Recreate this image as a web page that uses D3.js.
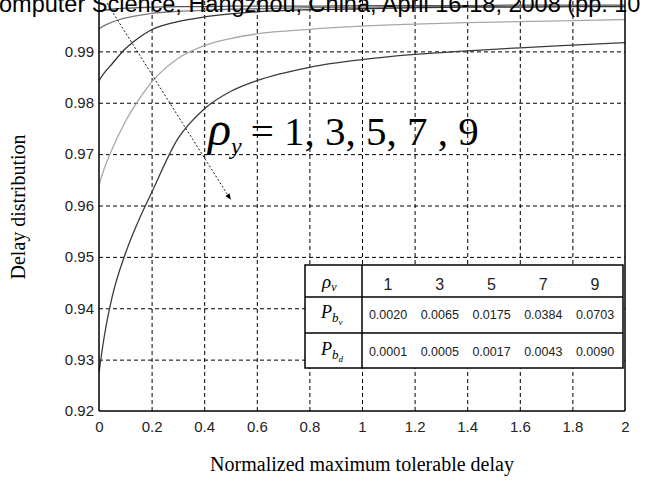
<!DOCTYPE html>
<meta charset="utf-8">
<style>
  body { margin: 0; background: #fff; }
  svg { display: block; }
  .tick text { font-family: "Liberation Sans", Arial, sans-serif; font-size: 15px; fill: #222; }
  .grid line { stroke: #000; stroke-dasharray: 4,3; stroke-width: 1; }
  .grid .domain { display: none; }
</style>
<div id="chart"></div>
<script src="https://cdn.jsdelivr.net/npm/d3@7"></script>
<script>
// sample positions along x (normalized maximum tolerable delay)
var xs = [0, 0.02, 0.05, 0.1, 0.15, 0.2, 0.3, 0.4, 0.5, 0.6, 0.8, 1.0, 1.2, 1.4, 1.6, 1.8, 2.0];

// delay distribution curves, one per rho_v
var rho1 = [0.9979, 0.9980, 0.9982, 0.9984, 0.9985, 0.9986, 0.9987, 0.9987, 0.9988, 0.9988, 0.9988, 0.9989, 0.9989, 0.9989, 0.9990, 0.9990, 0.9990];
var rho3 = [0.9944, 0.9950, 0.9957, 0.9965, 0.9970, 0.9974, 0.9978, 0.9980, 0.9982, 0.9983, 0.9985, 0.9986, 0.9987, 0.9987, 0.9988, 0.9988, 0.9988];
var rho5 = [0.9843, 0.9858, 0.9876, 0.9905, 0.9926, 0.9942, 0.9958, 0.9967, 0.9973, 0.9977, 0.9981, 0.9983, 0.9985, 0.9986, 0.9986, 0.9987, 0.9987];
var rho7 = [0.9640, 0.9672, 0.9710, 0.9763, 0.9805, 0.9840, 0.9886, 0.9911, 0.9925, 0.9934, 0.9943, 0.9949, 0.9953, 0.9956, 0.9958, 0.9960, 0.9962];
var rho9 = [0.9275, 0.9345, 0.9422, 0.9506, 0.9570, 0.9625, 0.9730, 0.9788, 0.9822, 0.9843, 0.9869, 0.9884, 0.9894, 0.9901, 0.9907, 0.9912, 0.9917];

var xTicks = [0, 0.2, 0.4, 0.6, 0.8, 1, 1.2, 1.4, 1.6, 1.8, 2];
var yTicks = [0.92, 0.93, 0.94, 0.95, 0.96, 0.97, 0.98, 0.99];

// inset table
var rhoVals = ["1", "3", "5", "7", "9"];
var pbv = ["0.0020", "0.0065", "0.0175", "0.0384", "0.0703"];
var pbd = ["0.0001", "0.0005", "0.0017", "0.0043", "0.0090"];

// arrow annotation (data coordinates)
var arrowFrom = [0.03, 0.9994];
var arrowTo = [0.50, 0.9612];

var W = 646, H = 481;
var margin = {top: 0, right: 21, bottom: 70, left: 99};
var width = W - margin.left - margin.right;
var height = 411 - margin.top;

var svg = d3.select("#chart").append("svg")
  .attr("width", W).attr("height", H);

var g = svg.append("g")
  .attr("transform", "translate(" + margin.left + "," + margin.top + ")");

var x = d3.scaleLinear().domain([0, 2]).range([0, width]);
var y = d3.scaleLinear().domain([0.92, 1.0]).range([height, 0]);

// dashed grid
g.append("g").attr("class", "grid")
  .attr("transform", "translate(0," + height + ")")
  .call(d3.axisBottom(x).tickValues(xTicks.slice(1, -1)).tickSize(-height).tickFormat(""));
g.append("g").attr("class", "grid")
  .call(d3.axisLeft(y).tickValues(yTicks.slice(1)).tickSize(-width).tickFormat(""));

// curves
var clip = g.append("clipPath").attr("id", "clip")
  .append("rect").attr("width", width).attr("height", height);

var series = [
  {vals: rho1, color: "#555"},
  {vals: rho3, color: "#7a7a7a"},
  {vals: rho5, color: "#333"},
  {vals: rho7, color: "#a8a8a8"},
  {vals: rho9, color: "#3c3c3c"}
];

var line = d3.line()
  .x(function(d) { return x(d[0]); })
  .y(function(d) { return y(d[1]); })
  .curve(d3.curveMonotoneX);

g.append("g").attr("clip-path", "url(#clip)")
  .selectAll("path").data(series).enter().append("path")
  .attr("fill", "none")
  .attr("stroke", function(d) { return d.color; })
  .attr("stroke-width", 1.3)
  .attr("d", function(d) { return line(xs.map(function(v, i) { return [v, d.vals[i]]; })); });

// axes (box on left, bottom, right)
var xAxis = g.append("g")
  .attr("transform", "translate(0," + height + ")")
  .call(d3.axisBottom(x).tickValues(xTicks).tickSize(0).tickPadding(10)
    .tickFormat(function(d) { return d3.format("")(+d.toFixed(1)); }));
xAxis.select(".domain").remove();

var yAxis = g.append("g")
  .call(d3.axisLeft(y).tickValues(yTicks).tickSize(0).tickPadding(5)
    .tickFormat(d3.format(".2f")));
yAxis.select(".domain").remove();

g.append("line").attr("x1", 0).attr("x2", 0).attr("y1", 0).attr("y2", height)
  .attr("stroke", "#000").attr("stroke-width", 1.5);
g.append("line").attr("x1", 0).attr("x2", width).attr("y1", height).attr("y2", height)
  .attr("stroke", "#000").attr("stroke-width", 1.5);
g.append("line").attr("x1", width).attr("x2", width).attr("y1", 0).attr("y2", height)
  .attr("stroke", "#000").attr("stroke-width", 1.5);

// arrow
svg.append("defs").append("marker")
  .attr("id", "arr").attr("viewBox", "0 0 10 10").attr("refX", 9).attr("refY", 5)
  .attr("markerWidth", 7).attr("markerHeight", 7).attr("orient", "auto")
  .append("path").attr("d", "M0,1 L10,5 L0,9 Z").attr("fill", "#000");

g.append("line")
  .attr("x1", x(arrowFrom[0])).attr("y1", y(arrowFrom[1]))
  .attr("x2", x(arrowTo[0])).attr("y2", y(arrowTo[1]))
  .attr("stroke", "#000").attr("stroke-width", 0.9)
  .attr("stroke-dasharray", "2,2")
  .attr("marker-end", "url(#arr)");

// big annotation
var ann = svg.append("text")
  .attr("font-family", "'Liberation Serif', 'Times New Roman', serif")
  .attr("x", 208).attr("y", 145);
ann.append("tspan").attr("font-style", "italic").attr("font-size", 48).text("ρ");
ann.append("tspan").attr("font-style", "italic").attr("font-size", 24).attr("dy", 9).text("y");
ann.append("tspan").attr("font-size", 41).attr("dy", -9).attr("dx", 9).text("= 1, 3, 5, 7 , 9");

// table
var tbl = {x: 305, y: 265, w: 318, h: 103, first: 57};
var rowY = [tbl.y, 297, 333, tbl.y + tbl.h];
var tg = svg.append("g");
tg.append("rect").attr("x", tbl.x).attr("y", tbl.y).attr("width", tbl.w).attr("height", tbl.h)
  .attr("fill", "#fff").attr("stroke", "#000").attr("stroke-width", 1.5);
tg.append("line").attr("x1", tbl.x + tbl.first).attr("x2", tbl.x + tbl.first)
  .attr("y1", tbl.y).attr("y2", tbl.y + tbl.h).attr("stroke", "#000").attr("stroke-width", 1.5);
[1, 2].forEach(function(i) {
  tg.append("line").attr("x1", tbl.x).attr("x2", tbl.x + tbl.w)
    .attr("y1", rowY[i]).attr("y2", rowY[i]).attr("stroke", "#000").attr("stroke-width", 1.5);
});

var col = d3.scalePoint().domain(d3.range(5))
  .range([tbl.x + tbl.first + 26, tbl.x + tbl.w - 28]);

tg.selectAll(".hdr").data(rhoVals).enter().append("text")
  .attr("x", function(d, i) { return col(i); }).attr("y", 290)
  .attr("text-anchor", "middle")
  .attr("font-family", "'Liberation Sans', Arial, sans-serif").attr("font-size", 16)
  .attr("fill", "#222").text(function(d) { return d; });

[[pbv, 319], [pbd, 356]].forEach(function(r) {
  tg.selectAll(null).data(r[0]).enter().append("text")
    .attr("x", function(d, i) { return col(i); }).attr("y", r[1])
    .attr("text-anchor", "middle")
    .attr("font-family", "'Liberation Sans', Arial, sans-serif").attr("font-size", 12.5)
    .attr("fill", "#222").text(function(d) { return d; });
});

// row labels
var serif = "'Liberation Serif', 'Times New Roman', serif";
var r1 = tg.append("text").attr("x", 322).attr("y", 288).attr("font-family", serif).attr("font-style", "italic");
r1.append("tspan").attr("font-size", 19).text("ρ");
r1.append("tspan").attr("font-size", 12).attr("dy", 3).text("v");

var r2 = tg.append("text").attr("x", 321).attr("y", 318).attr("font-family", serif).attr("font-style", "italic");
r2.append("tspan").attr("font-size", 18).text("P");
r2.append("tspan").attr("font-size", 13).attr("dy", 4).text("b");
r2.append("tspan").attr("font-size", 9).attr("dy", 3).text("v");

var r3 = tg.append("text").attr("x", 321).attr("y", 355).attr("font-family", serif).attr("font-style", "italic");
r3.append("tspan").attr("font-size", 18).text("P");
r3.append("tspan").attr("font-size", 13).attr("dy", 4).text("b");
r3.append("tspan").attr("font-size", 9).attr("dy", 3).text("d");

// axis titles
svg.append("text")
  .attr("x", x(1) + margin.left).attr("y", 471)
  .attr("text-anchor", "middle")
  .attr("font-family", serif).attr("font-size", 20)
  .text("Normalized maximum tolerable delay");

svg.append("text")
  .attr("transform", "translate(25," + 207 + ") rotate(-90)")
  .attr("text-anchor", "middle")
  .attr("font-family", serif).attr("font-size", 20)
  .text("Delay distribution");

// running header of the source page, cut at the top edge as in the scan
svg.append("text")
  .attr("x", -1).attr("y", 12)
  .attr("font-family", "'Liberation Sans', Arial, sans-serif").attr("font-size", 23.5)
  .text("omputer Science, Hangzhou, China, April 16-18, 2008 (pp. 10");
</script>
